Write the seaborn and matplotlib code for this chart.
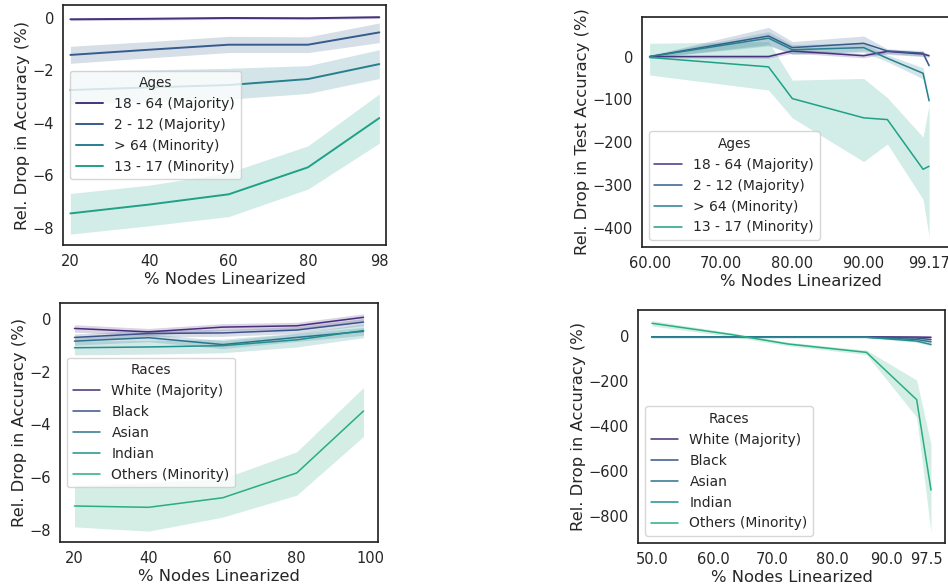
import numpy as np
import pandas as pd
import matplotlib
matplotlib.use("Agg")
import matplotlib.pyplot as plt
import seaborn as sns

# ---- data ----
age_groups = ["18 - 64 (Majority)", "2 - 12 (Majority)", "> 64 (Minority)", "13 - 17 (Minority)"]
race_groups = ["White (Majority)", "Black", "Asian", "Indian", "Others (Minority)"]

# top left: ages, accuracy drop
tl_x = [20, 40, 60, 80, 98]
tl_mean = [[-0.05, -0.03, 0.0, -0.01, 0.03],
           [-1.41, -1.21, -1.02, -1.02, -0.55],
           [-2.75, -2.65, -2.56, -2.33, -1.76],
           [-7.46, -7.12, -6.73, -5.70, -3.82]]
tl_lo = [[-0.10, -0.08, -0.05, -0.06, -0.02],
         [-1.73, -1.52, -1.32, -1.32, -0.94],
         [-3.29, -3.20, -3.10, -2.88, -2.31],
         [-8.25, -7.93, -7.58, -6.53, -4.78]]
tl_hi = [[0.00, 0.02, 0.05, 0.04, 0.08],
         [-1.08, -0.90, -0.70, -0.72, -0.19],
         [-2.02, -1.98, -1.92, -1.82, -1.21],
         [-6.70, -6.38, -5.90, -4.88, -2.90]]

# top right: ages, test accuracy drop
tr_x = [60, 76.67, 80, 90, 93.33, 98.33, 99.17]
tr_mean = [[0, 0, 13, 2, 12, 6, 2],
           [0, 48, 21, 31, 13, 8, -21],
           [0, 43, 16, 21, -4, -39, -103],
           [-2, -24, -98, -143, -147, -263, -256]]
tr_lo = [[-3, -4, 8, -3, 7, 1, -2],
         [-3, 28, 5, 13, 5, 0, -25],
         [-3, 25, 6, 10, -12, -52, -108],
         [-43, -78, -143, -245, -204, -333, -420]]
tr_hi = [[3, 4, 18, 7, 17, 11, 6],
         [3, 68, 35, 48, 18, 14, -17],
         [3, 58, 28, 32, 4, -26, -98],
         [31, 35, -55, -51, -96, -188, -114]]

# bottom left: races, accuracy drop
bl_x = [20, 40, 60, 80, 98]
bl_mean = [[-0.37, -0.50, -0.32, -0.27, 0.05],
           [-0.71, -0.56, -0.54, -0.43, -0.13],
           [-0.85, -0.72, -0.98, -0.71, -0.48],
           [-1.10, -1.07, -1.02, -0.80, -0.45],
           [-7.08, -7.13, -6.77, -5.83, -3.49]]
bl_lo = [[-0.51, -0.63, -0.45, -0.40, -0.08],
         [-0.84, -0.69, -0.67, -0.56, -0.26],
         [-1.00, -0.87, -1.13, -0.86, -0.63],
         [-1.37, -1.34, -1.29, -1.07, -0.72],
         [-7.87, -8.03, -7.50, -6.67, -4.45]]
bl_hi = [[-0.23, -0.37, -0.19, -0.14, 0.18],
         [-0.58, -0.43, -0.41, -0.30, 0.00],
         [-0.70, -0.57, -0.83, -0.56, -0.33],
         [-0.85, -0.82, -0.77, -0.55, -0.20],
         [-6.30, -6.20, -6.05, -5.03, -2.60]]

# bottom right: races, accuracy drop
br_x = [50, 63.3, 72.8, 85.9, 94.3, 96.7]
br_ticks = [50, 60.2, 70.2, 80.2, 89.3, 96.0]
br_ticklabels = ["50.0", "60.0", "70.0", "80.0", "90.0", "97.5"]
br_mean = [[-3, -3, -3, -3, -4, -5],
           [-3, -3, -3, -4, -8, -15],
           [-5, -5, -5, -5, -15, -25],
           [-5, -5, -5, -5, -22, -37],
           [57, 7, -35, -72, -282, -683]]
br_lo = [[-5, -5, -5, -5, -7, -9],
         [-5, -5, -5, -6, -11, -19],
         [-7, -7, -7, -7, -19, -30],
         [-7, -7, -7, -7, -27, -43],
         [45, -2, -43, -82, -360, -871]]
br_hi = [[-1, -1, -1, -1, -1, -1],
         [-1, -1, -1, -2, -5, -11],
         [-3, -3, -3, -3, -11, -20],
         [-3, -3, -3, -3, -17, -31],
         [69, 15, -27, -62, -195, -480]]


def long_frame(x, means, groups, name):
    rows = []
    for g, m in zip(groups, means):
        for xi, yi in zip(x, m):
            rows.append({"x": xi, "y": yi, name: g})
    return pd.DataFrame(rows)


def draw_panel(ax, x, means, lows, highs, groups, name, lw, loc):
    pal = sns.color_palette("viridis", len(groups) + 2)[:len(groups)]
    df = long_frame(x, means, groups, name)
    sns.lineplot(data=df, x="x", y="y", hue=name, hue_order=groups,
                 palette=pal, linewidth=lw, errorbar=None, ax=ax)
    for c, lo, hi in zip(pal, lows, highs):
        ax.fill_between(x, lo, hi, color=c, alpha=0.2, linewidth=0)
    sns.move_legend(ax, loc, title=name, fontsize=10, title_fontsize=9.8,
                    labelcolor=".15")
    ax.set_xlabel("% Nodes Linearized", fontsize=11.8, labelpad=2)
    ax.tick_params(labelsize=10.5, length=0, pad=6.5)


sns.set_theme(style="white")
plt.rcParams["font.family"] = ["DejaVu Sans"]

fig = plt.figure(figsize=(9.48, 5.86), dpi=100)
ax_tl = fig.add_axes([0.0665, 0.5819, 0.3407, 0.4096])
ax_tr = fig.add_axes([0.6772, 0.5785, 0.3354, 0.3925])
ax_bl = fig.add_axes([0.0633, 0.0751, 0.3354, 0.4078])
ax_br = fig.add_axes([0.6730, 0.0734, 0.3238, 0.3976])

draw_panel(ax_tl, tl_x, tl_mean, tl_lo, tl_hi, age_groups, "Ages", 1.4, "center left")
ax_tl.set_xticks(tl_x)
ax_tl.set_xlim(18.15, 99.7)
ax_tl.set_ylabel("Rel. Drop in Accuracy (%)", fontsize=11.8, labelpad=2)

draw_panel(ax_tr, tr_x, tr_mean, tr_lo, tr_hi, age_groups, "Ages", 1.1, "lower left")
ax_tr.set_xticks([60, 70, 80, 90, 99.17])
ax_tr.xaxis.set_major_formatter(matplotlib.ticker.FormatStrFormatter("%.2f"))
ax_tr.set_xlim(58.93, 103.5)
ax_tr.set_ylabel("Rel. Drop in Test Accuracy (%)", fontsize=11.8, labelpad=2)

draw_panel(ax_bl, bl_x, bl_mean, bl_lo, bl_hi, race_groups, "Races", 1.1, "center left")
ax_bl.set_ylabel("Rel. Drop in Accuracy (%)", fontsize=11.8, labelpad=2)

draw_panel(ax_br, br_x, br_mean, br_lo, br_hi, race_groups, "Races", 1.1, "lower left")
ax_br.set_xticks(br_ticks, br_ticklabels)
ax_br.set_ylabel("Rel. Drop in Accuracy (%)", fontsize=11.8, labelpad=2)

fig.savefig("out.png", dpi=100, facecolor="white")
